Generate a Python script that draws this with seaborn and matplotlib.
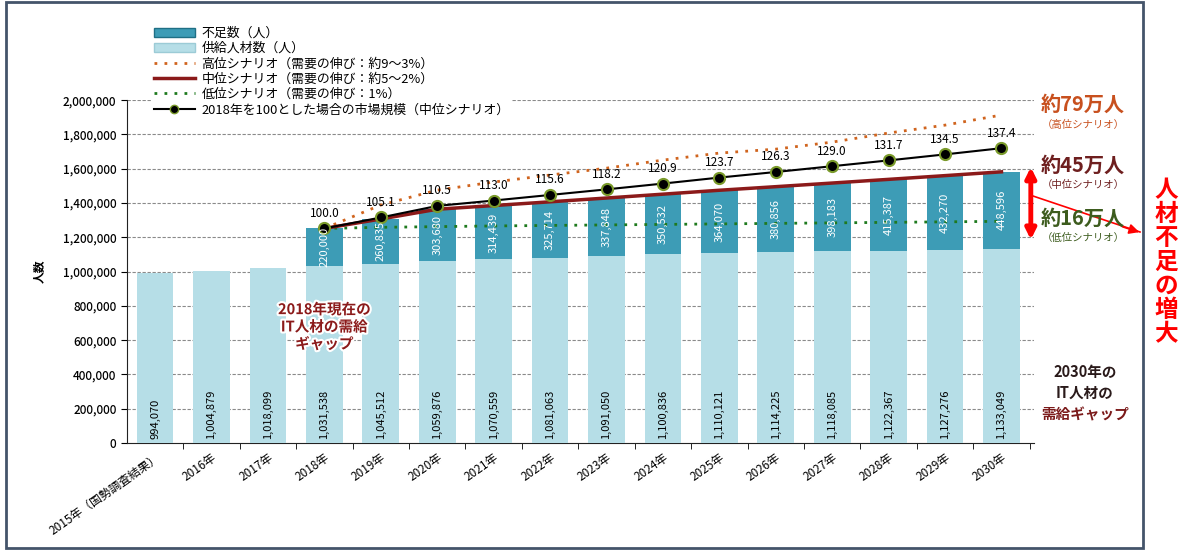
import seaborn as sns
import matplotlib.pyplot as plt
import matplotlib.patheffects as pe
from matplotlib.patches import Patch, Rectangle
from matplotlib.lines import Line2D
from matplotlib.ticker import FuncFormatter
import numpy as np
import pandas as pd

# data
years = ['2015年（国勢調査結果）', '2016年', '2017年', '2018年', '2019年', '2020年', '2021年',
         '2022年', '2023年', '2024年', '2025年', '2026年', '2027年', '2028年', '2029年', '2030年']
supply = [994070, 1004879, 1018099, 1031538, 1045512, 1059876, 1070559, 1081063,
          1091050, 1100836, 1110121, 1114225, 1118085, 1122367, 1127276, 1133049]
shortage = [0, 0, 0, 220000, 260835, 303680, 314439, 325714,
            337848, 350532, 364070, 380856, 398183, 415387, 432270, 448596]
market_index = [100.0, 105.1, 110.5, 113.0, 115.6, 118.2, 120.9, 123.7,
                126.3, 129.0, 131.7, 134.5, 137.4]
high_scenario = [1251538, 1388000, 1475000, 1522000, 1563000, 1603000, 1650000,
                 1691000, 1714000, 1755000, 1808000, 1854000, 1913000]
low_scenario = [1251538, 1258000, 1262000, 1266000, 1269000, 1272000, 1275000,
                1278000, 1281000, 1284000, 1287000, 1290000, 1293000]

df = pd.DataFrame({'year': years, 'supply': supply, 'shortage': shortage})
df['total'] = df['supply'] + df['shortage']

teal = '#3d9cb6'
light = '#b6dee7'

plt.rcParams['font.family'] = ['Noto Sans CJK JP', 'DejaVu Sans']
fig = plt.figure(figsize=(11.86, 5.5), dpi=100)
ax = fig.add_axes([0.107, 0.1945, 0.765, 0.6235])

# gridlines behind bars
for v in range(200000, 2000001, 200000):
    ax.axhline(v, color='#8a8a8a', lw=0.8, ls=(0, (3, 1.5)), zorder=0)

sns.barplot(x='year', y='total', data=df, color=teal, width=0.65, saturation=1, ax=ax, zorder=2)
sns.barplot(x='year', y='supply', data=df, color=light, width=0.65, saturation=1, ax=ax, zorder=3)

pos = np.arange(3, 16)
base = df['total'].iloc[3]
mid = df['total'].iloc[3:].values
market = [base * v / 100 for v in market_index]

sns.lineplot(x=pos, y=high_scenario, ax=ax, color='#d0641e', lw=2, linestyle=(0, (1, 2.6)), zorder=4)
sns.lineplot(x=pos, y=low_scenario, ax=ax, color='#1f7a1f', lw=2, linestyle=(0, (1, 2.6)), zorder=4)
sns.lineplot(x=pos, y=mid, ax=ax, color='#8b1a1a', lw=2.5, zorder=5)
sns.lineplot(x=pos, y=market, ax=ax, color='black', lw=1.5, marker='o', markersize=8,
             markerfacecolor='black', markeredgecolor='#7a9a2a', markeredgewidth=1.5, zorder=6)

for x, v, m in zip(pos, market_index, market):
    ax.text(x, m + 50000, f'{v:.1f}', ha='center', va='bottom', fontsize=8.5, zorder=7)

# bar value labels
for i, r in df.iterrows():
    ax.text(i, 25000, f"{r['supply']:,}", rotation=90, ha='center', va='bottom', fontsize=8, zorder=7)
    if r['shortage'] > 0:
        ax.text(i, r['supply'] + r['shortage'] / 2, f"{r['shortage']:,}", rotation=90,
                ha='center', va='center', fontsize=8, color='white', zorder=7)

ax.set_ylim(0, 2000000)
ax.set_xlim(-0.5, 15.58)
ax.yaxis.set_major_formatter(FuncFormatter(lambda v, p: f'{int(v):,}'))
ax.set_yticks(range(0, 2000001, 200000))
ax.tick_params(axis='y', labelsize=8.5, length=4, direction='out')
for t in ax.get_yticklabels():
    t.set_fontweight('medium')
ax.set_xticks(np.arange(16))
ax.set_xticklabels(years, rotation=35, ha='right', rotation_mode='anchor', fontsize=8.5)
ax.tick_params(axis='x', length=0, pad=6)
ax.set_xticks(np.arange(0.5, 16, 1), minor=True)
ax.tick_params(axis='x', which='minor', length=4)
ax.set_xlabel('')
ax.set_ylabel('人数', fontsize=8.5, fontweight='bold', labelpad=12)
for s in ['top', 'right']:
    ax.spines[s].set_visible(False)
ax.spines['left'].set_color('#222222')
ax.spines['bottom'].set_color('#222222')

# annotations inside plot
ax.text(3, 680000, '2018年現在の\nIT人材の需給\nギャップ', ha='center', va='center', fontsize=10.5,
        fontweight='bold', color='#8b1a1a', linespacing=1.1, zorder=8,
        path_effects=[pe.withStroke(linewidth=3, foreground='white')])
ax.annotate('', xy=(15.52, 1170000), xytext=(15.52, 1625000),
            arrowprops=dict(arrowstyle='<|-|>', color='red', lw=3.5, mutation_scale=15), zorder=8)

# legend
handles = [Patch(facecolor=teal, edgecolor='#1f6f85'),
           Patch(facecolor=light, edgecolor='#9ccbd6'),
           Line2D([], [], color='#d0641e', lw=2, linestyle=(0, (1, 2.6))),
           Line2D([], [], color='#8b1a1a', lw=2.5),
           Line2D([], [], color='#1f7a1f', lw=2, linestyle=(0, (1, 2.6))),
           Line2D([], [], color='black', lw=1.5, marker='o', markersize=6,
                  markerfacecolor='black', markeredgecolor='#7a9a2a')]
labels = ['不足数（人）', '供給人材数（人）', '高位シナリオ（需要の伸び：約9～3%）',
          '中位シナリオ（需要の伸び：約5～2%）', '低位シナリオ（需要の伸び：1%）',
          '2018年を100とした場合の市場規模（中位シナリオ）']
fig.legend(handles, labels, loc='upper left', bbox_to_anchor=(0.122, 0.968), fontsize=9.3,
           frameon=True, facecolor='white', edgecolor='none', framealpha=1,
           handlelength=3.2, labelspacing=0.18, borderpad=0.2, handletextpad=0.5)

# right side notes
fig.text(1083 / 1186, 1 - 104 / 550, '約79万人', ha='center', va='center', fontsize=14.5, fontweight='bold', color='#c8501e')
fig.text(1083 / 1186, 1 - 125 / 550, '（高位シナリオ）', ha='center', va='center', fontsize=7.5, color='#c8501e')
fig.text(1083 / 1186, 1 - 165 / 550, '約45万人', ha='center', va='center', fontsize=14.5, fontweight='bold', color='#6e1f1f')
fig.text(1083 / 1186, 1 - 185 / 550, '（中位シナリオ）', ha='center', va='center', fontsize=7.5, color='#6e1f1f')
fig.text(1083 / 1186, 1 - 218 / 550, '約16万人', ha='center', va='center', fontsize=14.5, fontweight='bold', color='#3d5c1e')
fig.text(1083 / 1186, 1 - 238 / 550, '（低位シナリオ）', ha='center', va='center', fontsize=7.5, color='#3d5c1e')
fig.text(1085 / 1186, 1 - 372 / 550, '2030年の', ha='center', va='center', fontsize=10.5, fontweight='bold', color='#2a1a1a')
fig.text(1085 / 1186, 1 - 393 / 550, 'IT人材の', ha='center', va='center', fontsize=10.5, fontweight='bold', color='#2a1a1a')
fig.text(1085 / 1186, 1 - 414 / 550, '需給ギャップ', ha='center', va='center', fontsize=10.5, fontweight='bold', color='#7b1a1a')
fig.text(1166 / 1186, 1 - 262 / 550, '\n'.join('人材不足の増大'), ha='center', va='center', fontsize=17,
         fontweight='bold', color='red', linespacing=1.0)

fig.add_artist(Rectangle((6 / 1186, 2 / 550), 1137 / 1186, 546 / 550, transform=fig.transFigure,
                         fill=False, edgecolor='#44546a', lw=2))
fig.add_artist(Line2D([1030 / 1186, 1140 / 1186], [1 - 195 / 550, 1 - 232 / 550], transform=fig.transFigure,
                      color='red', lw=1.2))
plt.annotate('', xy=(1142, 550 - 233), xytext=(1120, 550 - 226), xycoords='figure pixels',
             arrowprops=dict(arrowstyle='-|>', color='red', lw=1.2, mutation_scale=15))

plt.savefig('out.png', dpi=100)
